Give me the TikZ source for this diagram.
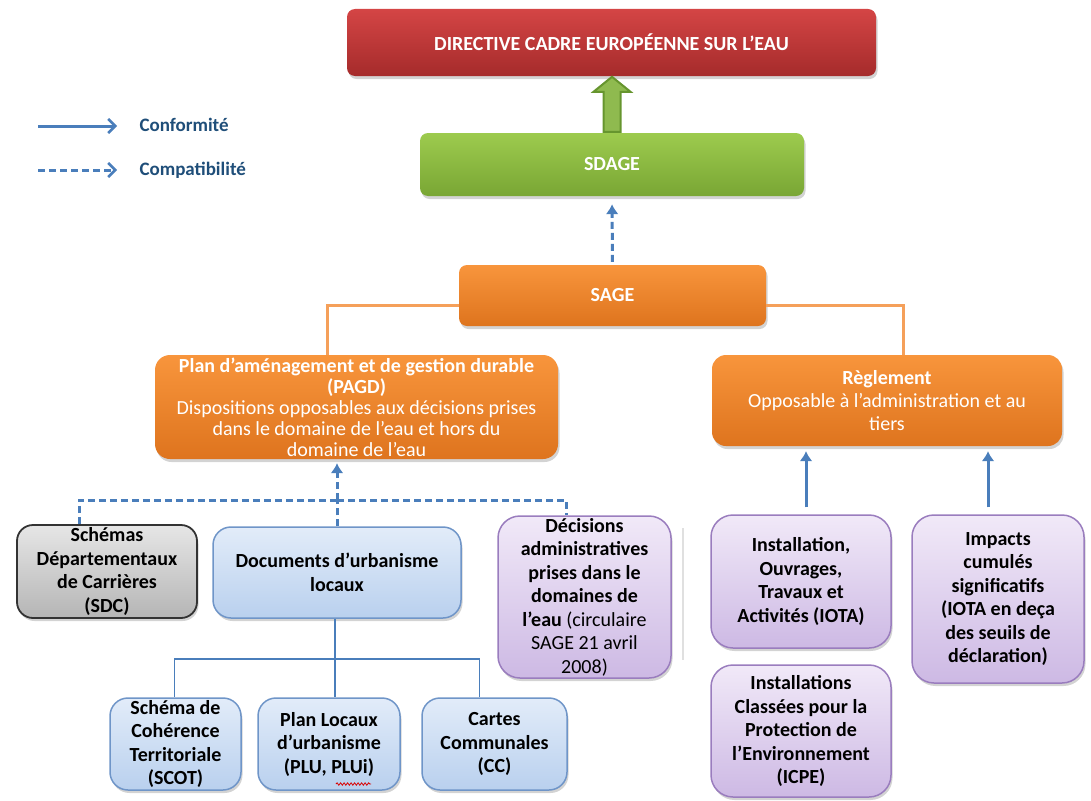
\documentclass[tikz,border=0pt]{standalone}
\usepackage{fontspec}
\setmainfont{Carlito}
\usetikzlibrary{shadows,arrows.meta,calc,decorations.pathmorphing}
\definecolor{redT}{HTML}{D44545}
\definecolor{redB}{HTML}{A52B2B}
\definecolor{grnT}{HTML}{9DCB4E}
\definecolor{grnB}{HTML}{79A634}
\definecolor{orgT}{HTML}{F8953C}
\definecolor{orgB}{HTML}{DE741E}
\definecolor{orgL}{HTML}{F5A05A}
\definecolor{gryT}{HTML}{E6E6E6}
\definecolor{gryB}{HTML}{B5B5B5}
\definecolor{bluT}{HTML}{E2ECF9}
\definecolor{bluB}{HTML}{B9D0EE}
\definecolor{bluD}{HTML}{6F95C8}
\definecolor{purT}{HTML}{F1E9F8}
\definecolor{purB}{HTML}{CDB9E4}
\definecolor{purD}{HTML}{9A7DBE}
\definecolor{conn}{HTML}{4A7EBB}
\definecolor{legtxt}{HTML}{1F4E79}
\definecolor{garF}{HTML}{8FBA4F}
\definecolor{garD}{HTML}{66952E}
\begin{document}
\begin{tikzpicture}[x=1pt,y=-1pt,
  box/.style={rectangle, rounded corners=8pt, align=center, inner sep=2pt,
    font=\fontsize{20}{23.5}\selectfont\bfseries,
    drop shadow={opacity=0.35, shadow xshift=1.5pt, shadow yshift=-3pt}},
  redbox/.style={box, top color=redT, bottom color=redB, text=white},
  grnbox/.style={box, top color=grnT, bottom color=grnB, text=white},
  orgbox/.style={box, top color=orgT, bottom color=orgB, text=white},
  grybox/.style={box, rounded corners=16pt, top color=gryT, bottom color=gryB, draw=black!80, line width=1.8pt, text=black},
  blubox/.style={box, rounded corners=18pt, top color=bluT, bottom color=bluB, draw=bluD, line width=1.5pt, text=black},
  purbox/.style={box, rounded corners=22pt, top color=purT, bottom color=purB, draw=purD, line width=1.5pt, text=black},
  dline/.style={conn, line width=3pt, dash pattern=on 7pt off 4pt},
  sline/.style={conn, line width=1.8pt},
  oline/.style={orgL, line width=3pt},
  tip/.style={-{Latex[length=10pt,width=13pt]}},
  legtip/.style={-{Straight Barb[length=7pt,width=14pt,line width=2.5pt]}},
  legtext/.style={anchor=west, text=legtxt, font=\fontsize{19}{22}\selectfont\bfseries}
]
\useasboundingbox (0,0) rectangle (1091,800);

% legend
\coordinate (l1a) at (38,126); \coordinate (l1b) at (117,126);
\coordinate (l2a) at (38,170); \coordinate (l2b) at (117,170);
\draw[conn, line width=3pt, legtip] (l1a) -- (l1b);
\draw[dline, legtip] (l2a) -- (l2b);
\node[legtext] (lg1) at (136,125) {Conformité};
\node[legtext] (lg2) at (136,170) {Compatibilité};

% main boxes
\node[redbox, minimum width=529pt, minimum height=67pt] (DCE) at (611.5,42.5) {DIRECTIVE CADRE EUROPÉENNE SUR L’EAU};
\node[grnbox, minimum width=384pt, minimum height=63pt] (SDAGE) at (612,164.5) {SDAGE};
\node[orgbox, minimum width=307pt, minimum height=61pt] (SAGE) at (612.5,295.5) {SAGE};
\node[orgbox, rounded corners=15pt, minimum width=403pt, minimum height=104pt,
  font=\fontsize{20}{21}\selectfont] (PAGD) at (356.5,407)
  {\bfseries Plan d’aménagement et de gestion durable\\ \bfseries (PAGD)\\
   \mdseries Dispositions opposables aux décisions prises\\
   \mdseries dans le domaine de l’eau et hors du\\ \mdseries domaine de l’eau};
\node[orgbox, rounded corners=14pt, minimum width=350pt, minimum height=91pt,
  font=\fontsize{20}{23}\selectfont] (REG) at (887,400.5)
  {\bfseries Règlement\\ \mdseries Opposable à l'administration et au\\ \mdseries tiers};

% second level
\node[grybox, minimum width=180pt, minimum height=93pt] (SDC) at (107,571.5)
  {Schémas\\ Départementaux\\ de Carrières\\ (SDC)};
\node[blubox, minimum width=248pt, minimum height=91pt] (DOC) at (337,572.5)
  {Documents d’urbanisme\\ locaux};
\node[purbox, minimum width=173pt, minimum height=162pt] (DEC) at (584.5,597)
  {\bfseries Décisions\\ \bfseries administratives\\ \bfseries prises dans le\\ \bfseries domaines de\\
   \bfseries l’eau \mdseries(circulaire\\ \mdseries SAGE 21 avril\\ \mdseries 2008)};

% third level
\node[blubox, minimum width=131pt, minimum height=92pt] (SCOT) at (175.5,744)
  {Schéma de\\ Cohérence\\ Territoriale\\ (SCOT)};
\node[blubox, minimum width=142pt, minimum height=92pt] (PLU) at (329,744)
  {Plan Locaux\\ d’urbanisme\\ (PLU, PLUi)};
\node[blubox, minimum width=145pt, minimum height=92pt] (CC) at (494.5,744)
  {Cartes\\ Communales\\ (CC)};

% right column
\node[purbox, minimum width=180pt, minimum height=133pt] (IOTA) at (801,581.5)
  {Installation,\\ Ouvrages,\\ Travaux et\\ Activités (IOTA)};
\node[purbox, minimum width=180pt, minimum height=132pt] (ICPE) at (801,731)
  {Installations\\ Classées pour la\\ Protection de\\ l’Environnement\\ (ICPE)};
\node[purbox, minimum width=172pt, minimum height=168pt] (IMP) at (998,599)
  {Impacts\\ cumulés\\ significatifs\\ (IOTA en deça\\ des seuils de\\ déclaration)};

% faint separator line
\draw[black!12, line width=1.2pt] (683,528) -- (683,660);

% spelling underline
\draw[red!85!black, line width=0.8pt, decorate, decoration={snake, amplitude=1.2pt, segment length=3.5pt}]
  (336,784) -- (371,784);

% green block arrow SDAGE -> DCE
\coordinate (ga) at (SDAGE.north);
\draw[fill=garF, draw=garD, line width=2pt, line join=miter]
  ($(ga)+(-8.5,-1)$) -- ++(0,-40) -- ++(-10,0) -- ($(ga)+(0,-56)$) -- ($(ga)+(18.5,-41)$)
  -- ++(-10,0) -- ($(ga)+(8.5,-1)$) -- cycle;

% dashed SAGE -> SDAGE
\draw[dline, tip, shorten <=3pt, shorten >=8pt] (SAGE.north) -- (SDAGE.south);

% orange connectors
\draw[oline] ($(SAGE.west)+(0,10)$) -| ($(PAGD.north)+(-29.5,0)$);
\draw[oline] ($(SAGE.east)+(0,10)$) -| ($(REG.north)+(16,0)$);

% dashed tree to PAGD
\coordinate (jd) at (337,500);
\draw[dline] ($(SDC.north)+(-28,0)$) |- (jd);
\draw[dline] (jd) -| ($(DEC.north)+(-18.5,0)$);
\draw[dline] (DOC.north) -- (jd);
\draw[dline, tip, shorten >=4pt] (jd) -- ($(PAGD.south)+(-19.5,0)$);

% solid tree from documents
\coordinate (js) at (335,659);
\draw[sline] ($(DOC.south)+(-2,0)$) -- (js);
\draw[sline] (js) -| ($(SCOT.north)+(-1,0)$);
\draw[sline] (js) -| ($(CC.north)+(-15,0)$);
\draw[sline] (js) -- ($(PLU.north)+(6,0)$);

% solid arrows to Reglement
\draw[conn, line width=3pt, tip, shorten <=7pt, shorten >=5pt] ($(IOTA.north)+(5,0)$) -- ($(REG.south)+(-81,0)$);
\draw[conn, line width=3pt, tip, shorten <=7pt, shorten >=5pt] ($(IMP.north)+(-10,0)$) -- ($(REG.south)+(101,0)$);
\end{tikzpicture}
\end{document}
